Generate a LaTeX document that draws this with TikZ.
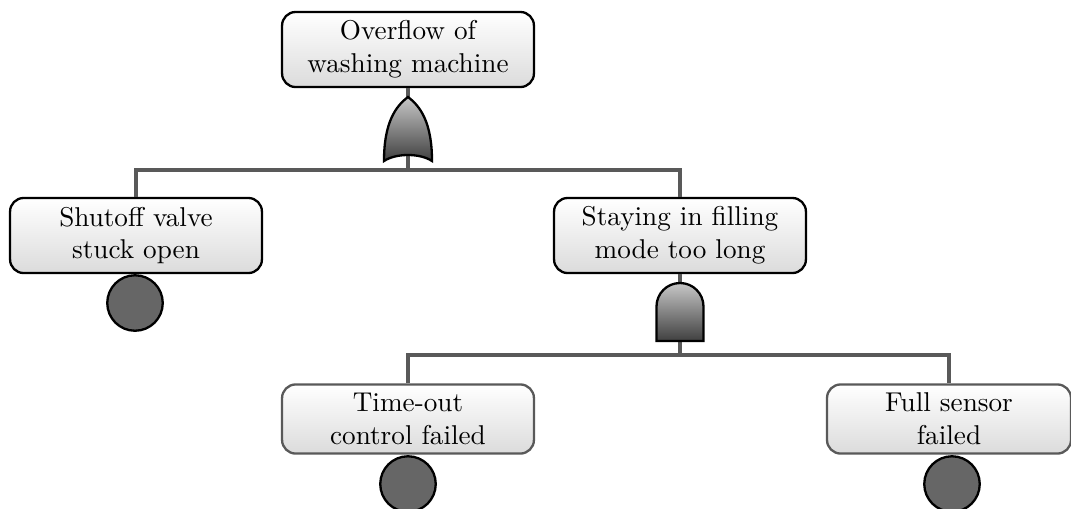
\documentclass[tikz,border=0pt]{standalone}
\begin{document}
\begin{tikzpicture}[x=0.36765pt,y=-0.36765pt,
  event/.style={draw=black, line width=0.85pt, rounded corners=5pt,
    top color=white, bottom color=black!14, align=center,
    minimum width=92.6pt, minimum height=27.6pt, inner sep=2pt},
  basic/.style={event, draw=black!65, minimum height=25.4pt},
  leaf/.style={circle, draw=black, line width=0.85pt, fill=black!60,
    minimum size=20.4pt, inner sep=0pt},
  link/.style={draw=black!65, line width=1.3pt},
  gate/.style={draw=black, line width=0.85pt, top color=black!22, bottom color=black!75}]
\useasboundingbox (0,0) rectangle (1071,508);

% events
\node[event] (top) at (408,49.5) {Overflow of\\washing machine};
\node[event] (valve) at (136,235.5) {Shutoff valve\\stuck open};
\node[event] (fill) at (680,235.5) {Staying in filling\\mode too long};
\node[basic] (timer) at (408,419) {Time-out\\control failed};
\node[basic, minimum width=89.7pt] (sensor) at (949,419) {Full sensor\\failed};

% basic-event circles
\node[leaf] (valveC) at (135,303) {};
\node[leaf] (timerC) at (408,484) {};
\node[leaf] (sensorC) at (952,484) {};

% junctions
\coordinate (j1) at (408,170);
\coordinate (j2) at (680,355);

% connectors
\draw[link] (top.south) -- (j1);
\draw[link] (valve.north) -- (valve.north |- j1) -- (fill.north |- j1) -- (fill.north);
\draw[link] (fill.south) -- (j2);
\draw[link] (timer.north) -- (timer.north |- j2) -- (sensor.north |- j2) -- (sensor.north);

% OR gate
\coordinate (orgate) at (408,97);
\draw[gate] (384,161) .. controls (384,122) and (396,106) .. (orgate)
  .. controls (420,106) and (432,122) .. (432,161)
  .. controls (420,153) and (396,153) .. (384,161) -- cycle;

% AND gate
\coordinate (andgate) at (680,283);
\draw[gate] (656.5,341) -- (656.5,306.5) arc[start angle=180, end angle=360, radius=23.5]
  -- (703.5,341) -- cycle;
\end{tikzpicture}
\end{document}
